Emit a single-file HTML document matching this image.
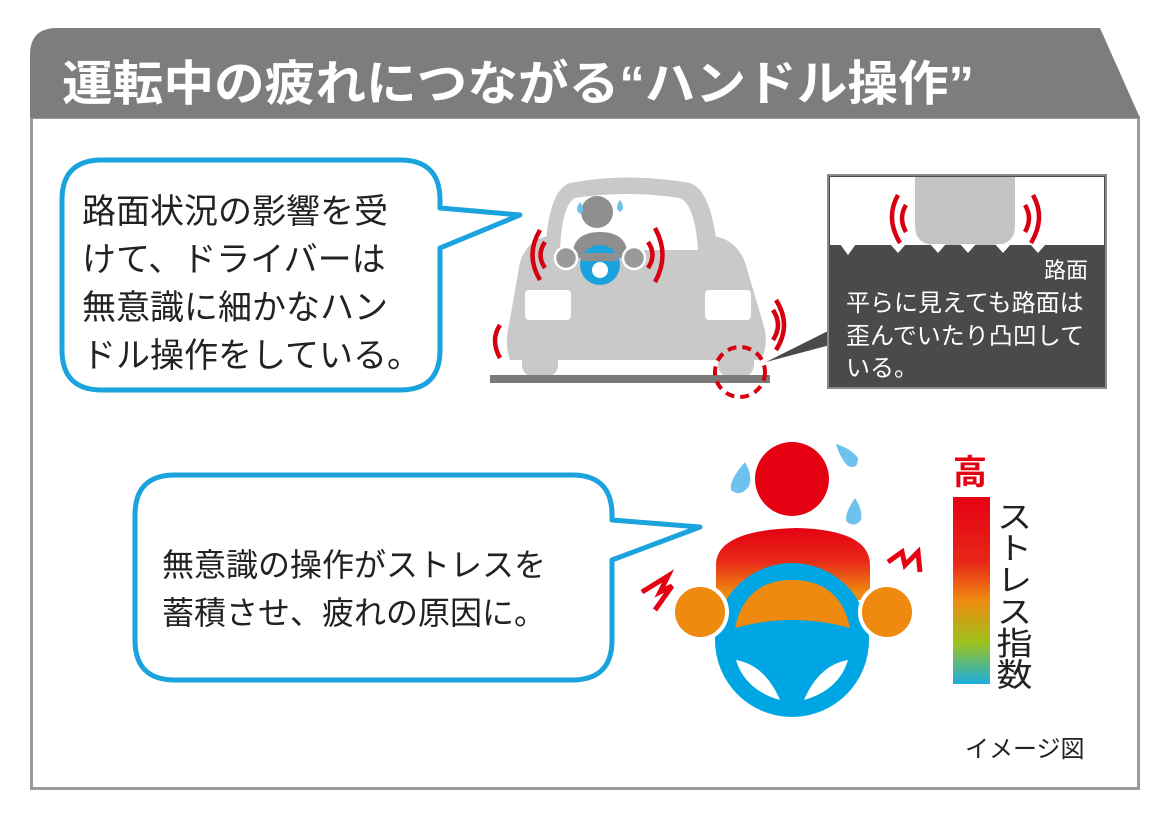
<!DOCTYPE html>
<html><head><meta charset="utf-8"><style>
html,body{margin:0;padding:0;background:#fff;width:1170px;height:830px;overflow:hidden}
svg text{font-family:"Liberation Sans","Noto Sans CJK JP",sans-serif}
</style></head><body>
<svg width="1170" height="830" viewBox="0 0 1170 830" xmlns="http://www.w3.org/2000/svg">
<defs>
<linearGradient id="bar" x1="0" y1="0" x2="0" y2="1">
<stop offset="0" stop-color="#e50012"/><stop offset="0.35" stop-color="#e8281a"/><stop offset="0.55" stop-color="#ef8a10"/><stop offset="0.78" stop-color="#9cc31c"/><stop offset="1" stop-color="#1aaee0"/></linearGradient>
<linearGradient id="body" x1="0" y1="0" x2="0" y2="1">
<stop offset="0" stop-color="#e50012"/><stop offset="0.45" stop-color="#e8281a"/><stop offset="0.9" stop-color="#ef8a10"/></linearGradient>
</defs>
<rect x="31.5" y="117.5" width="1107" height="671" fill="#fff" stroke="#9a9a9a" stroke-width="3"/>
<path d="M30 118 L30 55 Q30 28 57 28 L1100 28 L1140 118 Z" fill="#7d7d7d"/>
<text x="62" y="100" font-size="48" font-weight="bold" fill="#fff" textLength="912" lengthAdjust="spacingAndGlyphs">運転中の疲れにつながる“ハンドル操作”</text>

<path d="M102 160 L400 160 Q440 160 440 200 L440 208 L520 215 L440 248 L440 350 Q440 390 400 390 L102 390 Q62 390 62 350 L62 200 Q62 160 102 160 Z" fill="#fff" stroke="#1aa3dc" stroke-width="5" stroke-linejoin="round"/>
<g font-size="34" fill="#222">
<text x="82" y="223">路面状況の影響を受</text>
<text x="82" y="271">けて、ドライバーは</text>
<text x="82" y="319">無意識に細かなハン</text>
<text x="82" y="367">ドル操作をしている。</text>
</g>

<g fill="#c9c9c9">
<path d="M545 255 Q548 190 570 183 Q627 172 690 183 Q712 190 718 255 Z"/>
<path d="M520 262 Q528 238 550 236 L712 236 Q735 238 745 262 L765 330 Q768 350 760 360 L510 360 Q505 345 508 330 Z"/>
<rect x="522" y="345" width="36" height="32" rx="12"/>
<rect x="718" y="345" width="36" height="32" rx="12"/>
</g>
<path d="M560 250 Q562 205 575 198 Q627 190 680 198 Q695 205 698 250 Z" fill="#fff"/>
<rect x="525" y="290" width="46" height="30" rx="4" fill="#fff"/>
<rect x="705" y="290" width="46" height="30" rx="4" fill="#fff"/>
<rect x="490" y="375" width="280" height="8" fill="#7a7a7a"/>
<circle cx="597" cy="212" r="16" fill="#8f8f8f"/>
<path d="M572 258 Q572 232 600 232 Q628 232 628 258 Z" fill="#8f8f8f"/>
<circle cx="600" cy="265" r="20" fill="#1aa3dc"/>
<circle cx="600" cy="270" r="8" fill="#fff"/>
<rect x="582" y="253" width="36" height="8" fill="#8f8f8f"/>
<circle cx="566" cy="258" r="11" fill="#9a9a9a" stroke="#fff" stroke-width="2.5"/>
<circle cx="634" cy="258" r="11" fill="#9a9a9a" stroke="#fff" stroke-width="2.5"/>
<path d="M580 202 q-6 8 0 12 q6 -4 0 -12z" fill="#6ec3ee"/>
<path d="M620 200 q-6 8 0 12 q6 -4 0 -12z" fill="#6ec3ee"/>
<g fill="none" stroke="#d7000f" stroke-width="4.5">
<path d="M545 242 Q536 255 545 268"/><path d="M540 230 Q525 255 540 280"/>
<path d="M648 242 Q657 255 648 268"/><path d="M655 228 Q670 255 655 282"/>
<path d="M500 325 Q490 340 500 358"/>
<path d="M773 310 Q783 325 773 340"/><path d="M776 300 Q792 325 776 350"/>
</g>
<circle cx="740" cy="372" r="25" fill="none" stroke="#d7000f" stroke-width="4" stroke-dasharray="9 6"/>

<path d="M766 362 L830 330 L830 345 Z" fill="#4a4a4a"/>
<rect x="828" y="175" width="278" height="213" fill="#4a4a4a" stroke="#8a8a8a" stroke-width="2"/>
<rect x="830" y="177" width="274" height="68" fill="#fff"/>
<path d="M915 177 L1015 177 L1015 225 Q1015 245 995 245 L935 245 Q915 245 915 225 Z" fill="#c4c4c4"/>
<g fill="#fff"><path d="M840 244 L848 255 L856 244Z"/><path d="M890 244 L898 253 L906 244Z"/><path d="M930 244 L938 253 L946 244Z"/><path d="M960 244 L968 253 L976 244Z"/><path d="M995 244 L1003 253 L1011 244Z"/><path d="M1030 244 L1038 253 L1046 244Z"/></g>
<g fill="none" stroke="#d7000f" stroke-width="4.5">
<path d="M906 205 Q898 218 906 232"/><path d="M898 195 Q885 218 900 243"/>
<path d="M1025 205 Q1033 218 1025 232"/><path d="M1033 195 Q1046 218 1031 243"/>
</g>
<g fill="#fff">
<text x="1088" y="278" font-size="22" text-anchor="end">路面</text>
<text x="846" y="311" font-size="24">平らに見えても路面は</text>
<text x="846" y="344" font-size="24">歪んでいたり凸凹して</text>
<text x="846" y="376" font-size="24">いる。</text>
</g>

<path d="M175 475 L572 475 Q612 475 612 515 L612 520 L700 527 L612 560 L612 640 Q612 680 572 680 L175 680 Q135 680 135 640 L135 515 Q135 475 175 475 Z" fill="#fff" stroke="#1aa3dc" stroke-width="5" stroke-linejoin="round"/>
<g font-size="32" fill="#222">
<text x="162" y="576">無意識の操作がストレスを</text>
<text x="162" y="624">蓄積させ、疲れの原因に。</text>
</g>

<circle cx="792" cy="479" r="37" fill="#e50012"/>
<path d="M745 462 q-16 18 -14 28 q10 8 18 -4 q4 -10 -4 -24z" fill="#6ec3ee"/>
<path d="M836 444 q4 14 12 22 q10 4 10 -8 q-8 -10 -22 -14z" fill="#6ec3ee"/>
<path d="M855 498 q-12 18 -8 24 q8 6 14 -2 q2 -10 -6 -22z" fill="#6ec3ee"/>
<path d="M716 600 L716 565 Q716 530 797 528 Q870 530 870 565 L870 600 Z" fill="url(#body)"/>
<circle cx="792" cy="640" r="77" fill="#00a5e3"/>
<path d="M735 628 Q745 580 792 580 Q840 580 850 628 Q792 612 735 628 Z" fill="#ef8a10"/>
<path d="M736 660 Q765 665 780 700 Q745 690 736 660 Z" fill="#fff"/>
<path d="M848 660 Q819 665 804 700 Q839 690 848 660 Z" fill="#fff"/>
<circle cx="700" cy="612" r="27" fill="#ef8a10" stroke="#fff" stroke-width="4"/>
<circle cx="887" cy="612" r="27" fill="#ef8a10" stroke="#fff" stroke-width="4"/>
<path d="M642 592 L668 576 L660 592 L672 586 L655 610" fill="none" stroke="#e50012" stroke-width="5"/>
<path d="M888 562 L902 552 L905 565 L918 552 L920 572" fill="none" stroke="#e50012" stroke-width="5"/>

<text x="953" y="484" font-size="34" font-weight="bold" fill="#e50012">高</text>
<rect x="953" y="497" width="37" height="187" fill="url(#bar)"/>
<text x="1012" y="500" font-size="36" fill="#222" style="writing-mode:vertical-rl" textLength="190" lengthAdjust="spacingAndGlyphs">ストレス指数</text>

<text x="965" y="757" font-size="24" fill="#222">イメージ図</text>
</svg>
</body></html>
